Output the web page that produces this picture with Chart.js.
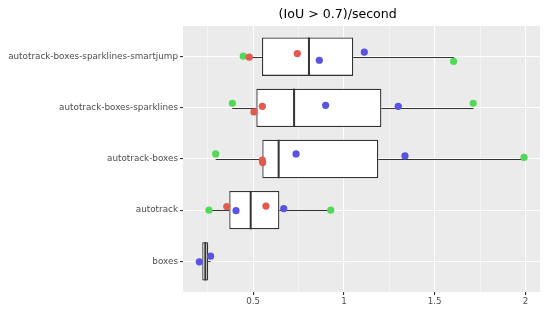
<!DOCTYPE html>
<html>
<head>
<meta charset="utf-8">
<script src="https://cdn.jsdelivr.net/npm/chart.js@4/dist/chart.umd.min.js"></script>
<style>
  html, body { margin: 0; padding: 0; background: #fff; }
  #wrap { width: 550px; height: 313px; }
</style>
</head>
<body>
<div id="wrap"><canvas id="chart"></canvas></div>
<script>
// categories from bottom (1) to top (5)
const categories = ['boxes', 'autotrack', 'autotrack-boxes', 'autotrack-boxes-sparklines', 'autotrack-boxes-sparklines-smartjump'];

// box statistics
const whiskerLo = [0.203, 0.256, 0.293, 0.385, 0.445];
const q1        = [0.219, 0.368, 0.550, 0.517, 0.548];
const median    = [0.236, 0.486, 0.640, 0.725, 0.807];
const q3        = [0.252, 0.644, 1.189, 1.206, 1.051];
const whiskerHi = [0.265, 0.927, 1.992, 1.714, 1.606];

// points per category, and their vertical jitter (category units)
const redValues   = [[], [0.354, 0.570], [0.550, 0.552], [0.550, 0.504], [0.478, 0.743]];
const redJitter   = [[], [0.07, 0.08], [-0.02, -0.07], [0.03, -0.08], [-0.01, 0.06]];
const greenValues = [[], [0.256, 0.927], [0.293, 1.992], [0.385, 1.712], [0.445, 1.604]];
const greenJitter = [[], [0.00, 0.00], [0.10, 0.03], [0.09, 0.09], [0.01, -0.09]];
const blueValues  = [[0.203, 0.265], [0.405, 0.668], [0.736, 1.336], [0.899, 1.299], [0.864, 1.112]];
const blueJitter  = [[-0.01, 0.10], [-0.01, 0.03], [0.10, 0.06], [0.05, 0.03], [-0.07, 0.09]];

const xTicks = [0.25, 0.5, 0.75, 1, 1.25, 1.5, 1.75, 2];

// turn value + jitter lists into scatter points
function toPoints(values, jitter) {
    const pts = [];
    values.forEach((row, i) => {
        row.forEach((v, j) => pts.push({ x: v, y: i + 1 + jitter[i][j] }));
    });
    return pts;
}

const FONT = 'DejaVu Sans';
const isMajor = v => Math.abs(v * 2 - Math.round(v * 2)) < 1e-6;

// grey panel background
const panelBg = {
    id: 'panelBg',
    beforeDraw(chart) {
        const { ctx, chartArea: a } = chart;
        ctx.save();
        ctx.fillStyle = '#EBEBEB';
        ctx.fillRect(a.left, a.top, a.right - a.left, a.bottom - a.top);
        ctx.restore();
    }
};

// whiskers before the boxes, medians after the boxes
const boxParts = {
    id: 'boxParts',
    beforeDatasetDraw(chart, args) {
        if (args.index !== 0) return;
        const { ctx, scales: { x, y } } = chart;
        ctx.save();
        ctx.strokeStyle = '#333333';
        ctx.lineWidth = 1;
        categories.forEach((c, i) => {
            const py = Math.round(y.getPixelForValue(i + 1)) + 0.5;
            ctx.beginPath();
            ctx.moveTo(x.getPixelForValue(whiskerLo[i]), py);
            ctx.lineTo(x.getPixelForValue(q1[i]), py);
            ctx.moveTo(x.getPixelForValue(q3[i]), py);
            ctx.lineTo(x.getPixelForValue(whiskerHi[i]), py);
            ctx.stroke();
        });
        ctx.restore();
    },
    afterDatasetDraw(chart, args) {
        if (args.index !== 0) return;
        const { ctx, scales: { x, y } } = chart;
        const half = (y.getPixelForValue(1) - y.getPixelForValue(2)) * 0.375;
        ctx.save();
        ctx.strokeStyle = '#333333';
        ctx.lineWidth = 2;
        categories.forEach((c, i) => {
            const px = x.getPixelForValue(median[i]);
            const py = y.getPixelForValue(i + 1);
            ctx.beginPath();
            ctx.moveTo(px, py - half);
            ctx.lineTo(px, py + half);
            ctx.stroke();
        });
        ctx.restore();
    }
};

// title centred over the panel
const titleText = {
    id: 'titleText',
    afterDraw(chart) {
        const { ctx } = chart;
        ctx.save();
        ctx.font = '12.6px "' + FONT + '"';
        ctx.fillStyle = '#000';
        ctx.textAlign = 'center';
        ctx.textBaseline = 'middle';
        ctx.fillText('(IoU > 0.7)/second', 337.7, 14.5);
        ctx.restore();
    }
};

const pointStyle = color => ({
    type: 'scatter',
    backgroundColor: color,
    borderColor: color,
    pointRadius: 3.6,
    pointBorderWidth: 0,
    order: 1
});

new Chart(document.getElementById('chart'), {
    type: 'scatter',
    data: {
        datasets: [
            {
                type: 'bar',
                indexAxis: 'y',
                data: categories.map((c, i) => ({ x: [q1[i], q3[i]], y: i + 1 })),
                backgroundColor: '#FFFFFF',
                borderColor: '#333333',
                borderWidth: 1.3,
                borderSkipped: false,
                barPercentage: 0.75,
                categoryPercentage: 1,
                order: 2
            },
            Object.assign(pointStyle('#E05A4F'), { data: toPoints(redValues, redJitter) }),
            Object.assign(pointStyle('#52D957'), { data: toPoints(greenValues, greenJitter) }),
            Object.assign(pointStyle('#5A52E0'), { data: toPoints(blueValues, blueJitter) })
        ]
    },
    options: {
        responsive: true,
        maintainAspectRatio: false,
        animation: false,
        layout: { padding: { top: 26, right: 10, left: 0, bottom: 0 } },
        plugins: { legend: { display: false }, tooltip: { enabled: false }, title: { display: false } },
        scales: {
            x: {
                type: 'linear',
                min: 0.113,
                max: 2.08,
                offset: false,
                afterBuildTicks: s => { s.ticks = xTicks.map(v => ({ value: v })); },
                afterFit: s => { s.height = 21; },
                border: { display: false },
                grid: {
                    offset: false,
                    color: '#FFFFFF',
                    lineWidth: c => isMajor(c.tick.value) ? 1.1 : 0.5,
                    tickColor: c => isMajor(c.tick.value) ? '#333333' : 'rgba(0,0,0,0)',
                    tickLength: 3
                },
                ticks: {
                    font: { family: FONT, size: 8.7 },
                    color: '#4D4D4D',
                    padding: 2,
                    maxRotation: 0,
                    autoSkip: false,
                    callback: v => isMajor(v) ? String(v) : ''
                }
            },
            y: {
                type: 'linear',
                min: 0.4,
                max: 5.6,
                offset: false,
                afterBuildTicks: s => { s.ticks = categories.map((c, i) => ({ value: i + 1 })); },
                afterFit: s => { s.width = 183; },
                border: { display: false },
                grid: {
                    offset: false,
                    color: '#FFFFFF',
                    lineWidth: 1.1,
                    tickColor: '#333333',
                    tickLength: 3
                },
                ticks: {
                    font: { family: FONT, size: 8.8 },
                    color: '#4D4D4D',
                    padding: 2,
                    autoSkip: false,
                    callback: v => categories[v - 1]
                }
            }
        }
    },
    plugins: [panelBg, boxParts, titleText]
});
</script>
</body>
</html>
